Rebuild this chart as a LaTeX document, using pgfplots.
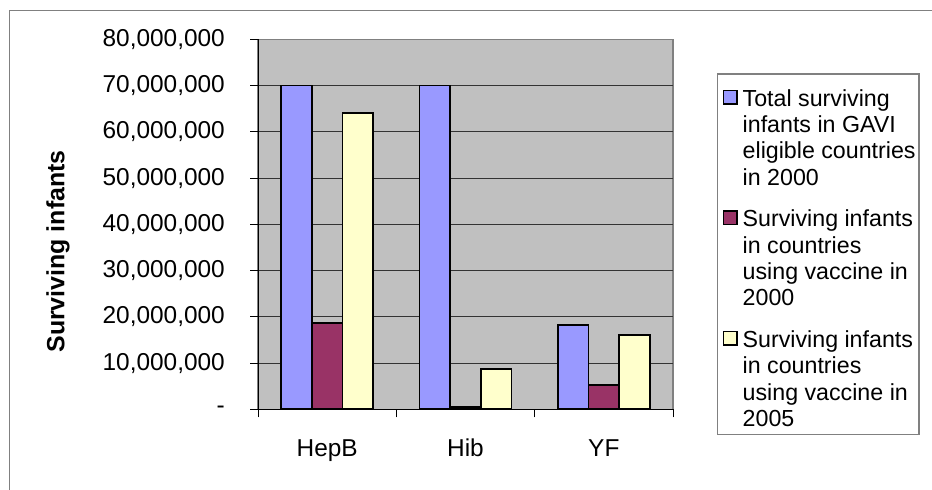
\documentclass[border=0pt]{standalone}
\usepackage{pgfplots}
\pgfplotsset{compat=1.18}
\usepackage{fontspec}
\setmainfont{Liberation Sans}
\definecolor{bgc}{HTML}{C0C0C0}
\definecolor{c1}{HTML}{9999FF}
\definecolor{c2}{HTML}{993366}
\definecolor{c3}{HTML}{FFFFCC}
\definecolor{brd}{HTML}{808080}
\pgfplotsset{sqleg/.style={legend image code/.code={\path (0bp,0bp); \draw[##1,/tikz/.cd,line width=1.6bp] (2.1bp,2.3bp) rectangle (15.4bp,15.6bp);}}}
\newcommand{\lent}[5]{\begin{tabular}[t]{@{}l@{}}\rule{0pt}{#1}#2\\#3\\#4\\#5\end{tabular}}
\begin{document}
\begin{tikzpicture}
\useasboundingbox (0,0) rectangle (932bp,490bp);
\draw[brd, line width=1.2bp] (9.5bp,-2bp) -- (9.5bp,479.3bp) -- (934bp,479.3bp);
\begin{axis}[
  at={(258bp,80.7bp)}, anchor=south west,
  scale only axis, width=415bp, height=370bp,
  ybar=0pt, bar width=30.7bp,
  xmin=-0.5, xmax=2.5, ymin=0, ymax=80000000,
  xtick={-0.5,0.5,1.5,2.5}, xticklabels={\mbox{},\mbox{},\mbox{},\mbox{}},
  extra x ticks={0,1,2}, extra x tick labels={HepB,Hib,YF},
  extra x tick style={major tick length=0pt},
  ytick={0,10000000,20000000,30000000,40000000,50000000,60000000,70000000},
  yticklabels={-\hspace{10bp},10{,}000{,}000,20{,}000{,}000,30{,}000{,}000,40{,}000{,}000,50{,}000{,}000,60{,}000{,}000,70{,}000{,}000},
  extra y ticks={80000000}, extra y tick labels={80{,}000{,}000},
  extra y tick style={grid=none},
  scaled y ticks=false,
  ymajorgrids, major grid style={black!80, line width=0.8bp},
  axis lines*=left, axis line style={black, line width=1bp, -},
  axis background/.style={fill=bgc, draw=brd, line width=1.2bp},
  tick align=outside, major tick length=8bp,
  tick style={black, line width=0.8bp},
  xticklabel style={font=\fontsize{24.5}{28}\selectfont, anchor=base, inner sep=0pt, text depth=, text height=, yshift=-47bp},
  yticklabel style={font=\fontsize{24.5}{28}\selectfont, anchor=east, inner sep=0pt, xshift=-25bp},
  ylabel={Surviving infants},
  every axis y label/.style={at={(axis description cs:-0.482,0.4265)}, rotate=90, anchor=center, font=\bfseries\fontsize{25}{30}\selectfont},
  legend cell align=left,
  legend style={at={(axis description cs:1.10675,0.9062)}, anchor=north west,
    draw=brd, line width=1.2bp, fill=white, inner xsep=3.3bp, inner ysep=0pt, outer sep=0pt,
    row sep=15bp, column sep=5bp, font=\fontsize{23.3}{26.5}\selectfont,
    nodes={inner sep=0pt, anchor=base west, text depth=, text height=}},
]
\addplot[fill=c1, draw=black, line width=1.8bp, sqleg]
  coordinates {(0,70000000) (1,70000000) (2,18300000)};
\addplot[fill=c2, draw=black, line width=1.8bp, sqleg]
  coordinates {(0,18700000) (1,450000) (2,5250000)};
\addplot[fill=c3, draw=black, line width=1.8bp, sqleg]
  coordinates {(0,64100000) (1,8650000) (2,16000000)};
\addlegendentry{\lent{32bp}{Total surviving}{infants in GAVI}{eligible countries}{in 2000}}
\addlegendentry{\lent{18.5bp}{Surviving infants}{in countries}{using vaccine in}{2000}}
\addlegendentry{\lent{18.5bp}{Surviving infants}{in countries}{using vaccine in}{2005}}
\end{axis}
\end{tikzpicture}
\end{document}
